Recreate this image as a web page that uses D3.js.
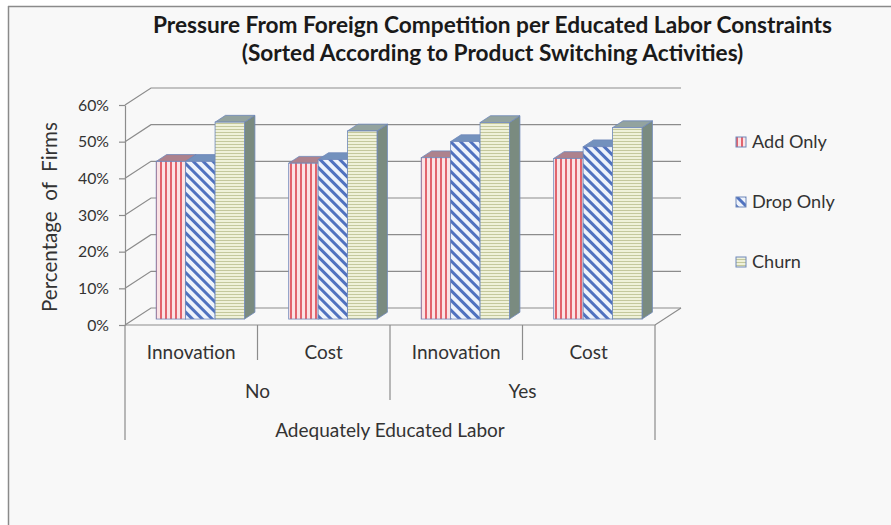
<!DOCTYPE html>
<html>
<head>
<meta charset="utf-8">
<script src="https://cdn.jsdelivr.net/npm/d3@7"></script>
<style>
  html, body { margin: 0; padding: 0; background: #fff; }
  svg { display: block; font-family: Lato, "Open Sans", sans-serif; }
</style>
</head>
<body>
<svg id="chart" width="891" height="525"></svg>
<script>
// data
const groups = ["No", "Yes"];
const drivers = ["Innovation", "Cost"];
const seriesNames = ["Add Only", "Drop Only", "Churn"];
const addOnly = [0.430, 0.425, 0.440, 0.438];
const dropOnly = [0.430, 0.435, 0.484, 0.470];
const churn = [0.537, 0.513, 0.536, 0.522];
const yTicks = [0, 0.1, 0.2, 0.3, 0.4, 0.5, 0.6];
const titleLines = [
  "Pressure From Foreign Competition per Educated Labor Constraints",
  "(Sorted According to Product Switching Activities)"
];
const groupTitle = "Adequately Educated Labor";
const yTitle = "Percentage  of  Firms";

const seriesValues = [addOnly, dropOnly, churn];
const categories = groups.flatMap(g => drivers.map(d => g + "|" + d));

// plot geometry (front plane + depth offset)
const x0 = 125, x1 = 655, yBase = 325, yTop = 105;
const DX = 26, DY = -17;
const f0 = 0.35, f1 = 0.75;   // bar front / back depth
const gridColor = "#8c8c8c";

const svg = d3.select("#chart");

// fit font size of a text node to a measured width
function fit(sel, target) {
  const fs = parseFloat(sel.attr("font-size"));
  const w = sel.node().getComputedTextLength();
  sel.attr("font-size", (fs * target / w).toFixed(2));
  return +sel.attr("font-size");
}

// patterns
const defs = svg.append("defs");
const pAdd = defs.append("pattern").attr("id", "pAdd")
  .attr("patternUnits", "userSpaceOnUse").attr("width", 5).attr("height", 5);
pAdd.append("rect").attr("width", 5).attr("height", 5).attr("fill", "#fbe3e5");
pAdd.append("rect").attr("x", 0).attr("width", 2).attr("height", 5).attr("fill", "#e2646e");

const pDrop = defs.append("pattern").attr("id", "pDrop")
  .attr("patternUnits", "userSpaceOnUse").attr("width", 7).attr("height", 7)
  .attr("patternTransform", "rotate(-45)");
pDrop.append("rect").attr("width", 7).attr("height", 7).attr("fill", "#eef3fb");
pDrop.append("rect").attr("width", 3).attr("height", 7).attr("fill", "#5072bf");

const pChurn = defs.append("pattern").attr("id", "pChurn")
  .attr("patternUnits", "userSpaceOnUse").attr("width", 4).attr("height", 3);
pChurn.append("rect").attr("width", 4).attr("height", 3).attr("fill", "#eff1d9");
pChurn.append("rect").attr("y", 0).attr("width", 4).attr("height", 1).attr("fill", "#c4c89c");

const seriesStyle = [
  { fill: "url(#pAdd)", top: "#ad828d", side: "#8e5f6b" },
  { fill: "url(#pDrop)", top: "#7391bd", side: "#4f6a9a" },
  { fill: "url(#pChurn)", top: "#93a39f", side: "#7a8b80" }
];

// background and frame
svg.append("rect").attr("x", 8).attr("y", 6).attr("width", 883).attr("height", 519).attr("fill", "#f8f8f8");
svg.append("line").attr("x1", 8).attr("x2", 891).attr("y1", 6.5).attr("y2", 6.5)
  .attr("stroke", "#8a8a8a").attr("stroke-width", 1.5);
svg.append("line").attr("x1", 8.5).attr("x2", 8.5).attr("y1", 6).attr("y2", 525)
  .attr("stroke", "#8a8a8a").attr("stroke-width", 1.5);

// scales
const x = d3.scaleBand().domain(categories).range([x0, x1]).padding(0);
const xs = d3.scaleBand().domain(seriesNames).range([0, x.bandwidth()])
  .paddingInner(0).paddingOuter(0.75);
const y = d3.scaleLinear().domain([0, 0.6]).range([yBase, yTop]);

// walls: gridlines running back along the side wall then across the back wall
const grid = svg.append("g").attr("fill", "none").attr("stroke", gridColor).attr("stroke-width", 1.2);
grid.selectAll("path").data(yTicks).join("path")
  .attr("d", t => {
    const yy = y(t);
    return `M${x0},${yy}L${x0 + DX},${yy + DY}L${x1 + DX},${yy + DY}`;
  });
// floor front and right edges
grid.append("path")
  .attr("d", `M${x0},${yBase}L${x1},${yBase}L${x1 + DX},${yBase + DY}`);

// bars
const bars = [];
categories.forEach((c, i) => {
  seriesNames.forEach((s, j) => {
    bars.push({ cat: c, series: s, j, value: seriesValues[j][i] });
  });
});

const barG = svg.append("g");
const ddx = (f1 - f0) * DX, ddy = (f1 - f0) * DY;
bars.forEach(b => {
  const st = seriesStyle[b.j];
  const xl = x(b.cat) + xs(b.series) + f0 * DX;
  const xr = xl + xs.bandwidth();
  const yv = y(b.value) + f0 * DY;
  const base = y(0) + f0 * DY;
  const g = barG.append("g").attr("stroke", "#6f88ba").attr("stroke-width", 0.8);
  g.append("path").attr("fill", st.side)
    .attr("d", `M${xr},${yv}L${xr + ddx},${yv + ddy}L${xr + ddx},${base + ddy}L${xr},${base}Z`);
  g.append("path").attr("fill", st.top)
    .attr("d", `M${xl},${yv}L${xr},${yv}L${xr + ddx},${yv + ddy}L${xl + ddx},${yv + ddy}Z`);
  g.append("rect").attr("fill", st.fill)
    .attr("x", xl).attr("y", yv).attr("width", xr - xl).attr("height", base - yv);
});

// y axis
const yAxis = svg.append("g").attr("transform", `translate(${x0},0)`)
  .call(d3.axisLeft(y).tickValues(yTicks).tickFormat(d3.format(".0%"))
    .tickSize(6).tickSizeOuter(0).tickPadding(10));
yAxis.select(".domain").attr("stroke", gridColor).attr("stroke-width", 1.2);
yAxis.selectAll(".tick line").attr("stroke", gridColor).attr("stroke-width", 1.2);
const tickText = yAxis.selectAll(".tick text").attr("fill", "#333").attr("font-family", "Lato")
  .attr("font-size", 15);
const tickFs = fit(yAxis.select(".tick:last-of-type text"), 31);
tickText.attr("font-size", tickFs);

// y title
const yt = svg.append("text").attr("transform", "translate(57,217) rotate(-90)")
  .attr("text-anchor", "middle").attr("fill", "#333").attr("font-size", 17)
  .style("white-space", "pre").text(yTitle);
fit(yt, 190);

// category axis: boundary lines of three lengths
const bounds = categories.map(c => x(c)).concat([x1]);
const boundLen = [440, 360, 400, 360, 440];
svg.append("g").attr("stroke", gridColor).attr("stroke-width", 1.2)
  .selectAll("line").data(bounds).join("line")
  .attr("x1", d => d).attr("x2", d => d)
  .attr("y1", yBase).attr("y2", (d, i) => boundLen[i]);

const catLabels = svg.append("g").attr("fill", "#333").attr("text-anchor", "middle")
  .selectAll("text").data(categories).join("text")
  .attr("x", c => x(c) + x.bandwidth() / 2).attr("y", 359)
  .attr("font-size", 16).text(c => c.split("|")[1]);
const catFs = fit(d3.select(catLabels.nodes()[0]), 89);
catLabels.attr("font-size", catFs);

svg.append("g").attr("fill", "#333").attr("text-anchor", "middle")
  .selectAll("text").data(groups).join("text")
  .attr("x", g => (x(g + "|" + drivers[0]) + x(g + "|" + drivers[1]) + x.bandwidth()) / 2)
  .attr("y", 398).attr("font-size", catFs).text(g => g);

svg.append("text").attr("x", (x0 + x1) / 2).attr("y", 437)
  .attr("text-anchor", "middle").attr("fill", "#333").attr("font-size", catFs)
  .text(groupTitle);

// title
const t1 = svg.append("text").attr("x", 492.5).attr("y", 33).attr("text-anchor", "middle")
  .attr("font-weight", "bold").attr("fill", "#1a1a1a").attr("font-size", 20).text(titleLines[0]);
const titleFs = fit(t1, 679);
svg.append("text").attr("x", 492.5).attr("y", 61).attr("text-anchor", "middle")
  .attr("font-weight", "bold").attr("fill", "#1a1a1a").attr("font-size", titleFs).text(titleLines[1]);

// legend
const legend = svg.append("g").attr("transform", "translate(736,0)");
const legY = [148, 208, 268];
const items = legend.selectAll("g").data(seriesNames).join("g")
  .attr("transform", (d, i) => `translate(0,${legY[i]})`);
items.append("rect").attr("x", 0).attr("y", -11).attr("width", 10).attr("height", 10)
  .attr("fill", (d, i) => seriesStyle[i].fill).attr("stroke", "#6f88ba").attr("stroke-width", 1);
const legText = items.append("text").attr("x", 16).attr("y", 0).attr("fill", "#333")
  .attr("font-size", 16).text(d => d);
const legFs = fit(d3.select(legText.nodes()[0]), 75);
legText.attr("font-size", legFs);
</script>
</body>
</html>
